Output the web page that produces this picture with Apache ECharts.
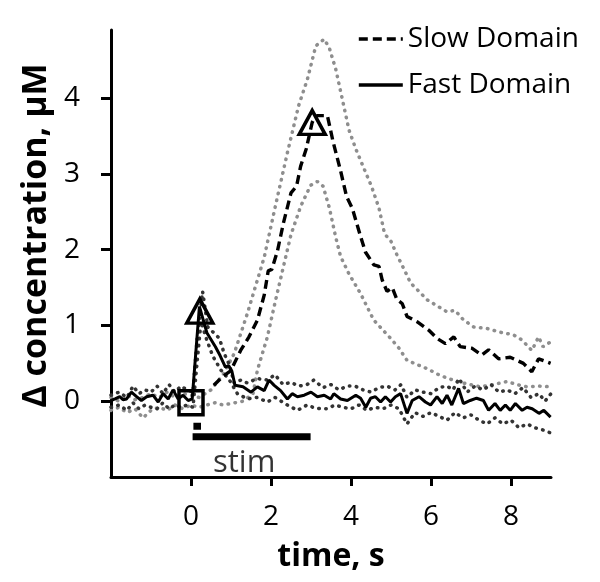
<!DOCTYPE html>
<html>
<head>
<meta charset="utf-8">
<script src="https://cdn.jsdelivr.net/npm/echarts@6/dist/echarts.min.js"></script>
<style>html,body{margin:0;padding:0;background:#fff}#c{width:600px;height:582px}</style>
</head>
<body>
<div id="c"></div>
<script>
// ---- data (time in s, concentration in µM) ----
const xTicks = [0, 2, 4, 6, 8];
const yTicks = [0, 1, 2, 3, 4];

const slowDomain = [[0.57,0.21],[0.78,0.32],[0.99,0.40],[1.24,0.67],[1.45,0.85],[1.66,1.07],[1.83,1.40],[1.93,1.72],[2.02,1.74],[2.16,1.98],[2.31,2.35],[2.50,2.75],[2.64,2.84],[2.74,3.10],[2.88,3.33],[3.03,3.68],[3.10,3.76],[3.17,3.77],[3.41,3.77],[3.55,3.43],[3.74,3.04],[3.89,2.70],[4.03,2.55],[4.22,2.21],[4.36,1.97],[4.57,1.80],[4.70,1.78],[4.78,1.60],[4.90,1.45],[5.03,1.50],[5.15,1.34],[5.28,1.29],[5.40,1.12],[5.65,1.05],[5.94,0.94],[6.15,0.83],[6.36,0.76],[6.57,0.85],[6.73,0.72],[7.02,0.70],[7.27,0.61],[7.44,0.68],[7.69,0.56],[7.98,0.58],[8.31,0.50],[8.52,0.39],[8.69,0.56],[8.99,0.50]];

const slowUpper = [[-2,0.05],[-1.8,0.0],[-1.6,0.08],[-1.4,0.02],[-1.2,0.05],[-1.0,0.10],[-0.8,0.05],[-0.6,0.12],[-0.4,0.05],[-0.2,0.10],[0,0.08],[0.2,0.05],[0.5,0.15],[0.8,0.35],[1.08,0.63],[1.41,1.16],[1.66,1.60],[1.83,1.90],[2.12,2.60],[2.41,3.28],[2.69,3.90],[2.91,4.25],[3.12,4.69],[3.33,4.78],[3.46,4.66],[3.62,4.38],[3.79,3.97],[3.95,3.58],[4.12,3.33],[4.31,3.09],[4.51,2.84],[4.70,2.55],[4.84,2.21],[5.0,2.11],[5.15,1.93],[5.32,1.75],[5.49,1.56],[5.70,1.45],[5.90,1.34],[6.15,1.26],[6.40,1.18],[6.60,1.20],[6.80,1.08],[7.07,0.98],[7.40,0.96],[7.81,0.90],[8.05,0.88],[8.27,0.81],[8.52,0.67],[8.69,0.85],[8.80,0.72],[8.98,0.78]];

const slowLower = [[-2,-0.12],[-1.8,-0.08],[-1.6,-0.15],[-1.4,-0.10],[-1.2,-0.22],[-1.0,-0.12],[-0.8,-0.08],[-0.6,-0.12],[-0.4,-0.05],[-0.2,-0.10],[0,-0.05],[0.2,-0.08],[0.4,-0.05],[0.6,-0.02],[0.8,-0.05],[1.0,-0.03],[1.3,0.0],[1.55,0.10],[1.66,0.41],[1.91,0.85],[2.10,1.30],[2.29,1.73],[2.50,2.20],[2.74,2.57],[2.99,2.85],[3.16,2.90],[3.30,2.84],[3.46,2.55],[3.62,2.16],[3.74,1.91],[3.95,1.68],[4.24,1.42],[4.57,1.07],[4.99,0.83],[5.20,0.70],[5.40,0.54],[5.90,0.43],[6.23,0.34],[6.65,0.26],[7.23,0.19],[7.55,0.22],[7.90,0.26],[8.15,0.22],[8.40,0.19],[8.70,0.20],[8.99,0.19]];

const fastDomain = [[-2,0.01],[-1.9,0.03],[-1.78,0.06],[-1.7,0.02],[-1.61,0.03],[-1.49,0.12],[-1.36,0.06],[-1.24,0.01],[-1.11,0.06],[-0.95,0.08],[-0.82,-0.01],[-0.7,0.10],[-0.57,0.03],[-0.45,0.15],[-0.32,0.03],[-0.2,0.08],[-0.07,0.01],[0.03,0.03],[0.21,1.25],[0.40,0.90],[0.61,0.72],[0.73,0.60],[0.86,0.45],[0.94,0.47],[1.02,0.40],[1.10,0.21],[1.30,0.19],[1.50,0.12],[1.66,0.19],[1.83,0.14],[1.95,0.28],[2.08,0.21],[2.24,0.14],[2.41,0.03],[2.53,0.10],[2.66,0.06],[2.83,0.08],[3.0,0.12],[3.16,0.06],[3.33,0.08],[3.49,0.03],[3.57,0.10],[3.74,0.03],[3.91,0.01],[4.12,0.08],[4.24,0.04],[4.37,-0.08],[4.49,0.04],[4.61,0.06],[4.74,-0.01],[4.86,0.06],[4.99,-0.01],[5.11,0.06],[5.24,0.10],[5.40,-0.16],[5.53,0.01],[5.70,0.06],[5.86,-0.01],[5.99,-0.05],[6.15,0.06],[6.28,-0.03],[6.40,0.08],[6.52,-0.05],[6.69,0.17],[6.81,-0.03],[6.98,0.01],[7.14,0.04],[7.31,0.01],[7.44,-0.12],[7.60,-0.03],[7.73,-0.12],[7.86,-0.05],[7.98,-0.12],[8.11,-0.03],[8.28,-0.12],[8.40,-0.08],[8.53,-0.10],[8.70,-0.16],[8.82,-0.12],[8.99,-0.21]];

const fastUpper = [[-2,0.08],[-1.8,0.12],[-1.6,0.05],[-1.45,0.20],[-1.3,0.10],[-1.15,0.15],[-1.0,0.12],[-0.85,0.20],[-0.7,0.10],[-0.55,0.22],[-0.4,0.12],[-0.25,0.20],[-0.1,0.15],[0.05,0.12],[0.15,0.80],[0.29,1.45],[0.42,0.98],[0.71,0.83],[0.83,0.63],[0.96,0.48],[1.08,0.24],[1.25,0.28],[1.41,0.24],[1.65,0.30],[1.91,0.28],[2.1,0.35],[2.3,0.22],[2.49,0.25],[2.7,0.20],[2.9,0.22],[3.07,0.28],[3.3,0.18],[3.5,0.22],[3.7,0.15],[3.9,0.20],[4.1,0.20],[4.3,0.15],[4.5,0.12],[4.7,0.18],[4.9,0.20],[5.1,0.15],[5.25,0.22],[5.4,0.05],[5.6,0.15],[5.8,0.12],[6.0,0.10],[6.2,0.18],[6.4,0.20],[6.55,0.15],[6.7,0.30],[6.9,0.12],[7.1,0.20],[7.3,0.15],[7.5,0.22],[7.7,0.12],[7.9,0.15],[8.1,0.10],[8.3,0.18],[8.5,0.05],[8.7,0.10],[8.85,0.0],[9.0,0.10]];

const fastLower = [[-2,-0.08],[-1.8,-0.05],[-1.6,-0.12],[-1.45,-0.02],[-1.3,-0.10],[-1.15,-0.05],[-1.0,-0.08],[-0.85,-0.10],[-0.7,-0.02],[-0.55,-0.10],[-0.4,-0.05],[-0.25,-0.08],[-0.1,-0.05],[0.05,-0.08],[0.15,0.50],[0.25,1.05],[0.40,0.80],[0.55,0.59],[0.75,0.41],[0.96,0.28],[1.16,0.10],[1.41,0.03],[1.65,0.05],[1.91,-0.01],[2.1,0.05],[2.41,-0.05],[2.66,-0.12],[2.9,-0.05],[3.05,-0.08],[3.24,-0.10],[3.4,-0.10],[3.6,-0.05],[3.8,-0.08],[4.0,-0.10],[4.2,-0.05],[4.4,-0.12],[4.6,-0.08],[4.8,-0.10],[5.0,-0.05],[5.2,-0.10],[5.4,-0.30],[5.6,-0.15],[5.8,-0.20],[6.0,-0.15],[6.2,-0.20],[6.4,-0.25],[6.6,-0.15],[6.8,-0.22],[7.0,-0.18],[7.2,-0.25],[7.4,-0.30],[7.6,-0.22],[7.8,-0.30],[8.0,-0.25],[8.2,-0.35],[8.4,-0.30],[8.6,-0.35],[8.8,-0.38],[9.0,-0.42]];

const peakMarkers = [[0.22,1.19],[3.03,3.68]];
const onsetMarker = [[0.0,-0.02]];
const stimBar = [[0.04,-0.47],[2.99,-0.47]];
const stimPulse = [[0.06,-0.33],[0.25,-0.33]];
const stimLabel = [[1.33,-0.82]];

const FONT = '"Open Sans", sans-serif';
const dotted = (c) => ({ color: c, width: 3.5, type: [0.5, 6.5], cap: 'round' });

const chart = echarts.init(document.getElementById('c'), null, { renderer: 'canvas' });
chart.setOption({
  animation: false,
  backgroundColor: '#fff',
  grid: { left: 111, right: 49, top: 30, bottom: 105 },
  legend: {
    data: ['Slow Domain', 'Fast Domain'],
    orient: 'vertical', left: 352, top: 20,
    itemWidth: 44, itemHeight: 14, itemGap: 18,
    itemStyle: { opacity: 0 },
    lineStyle: { width: 3.6 },
    textStyle: { fontFamily: FONT, fontSize: 28, color: '#000' }
  },
  xAxis: {
    type: 'value', min: -2, max: 9,
    name: 'time, s', nameLocation: 'middle', nameGap: 64,
    nameTextStyle: { fontFamily: FONT, fontSize: 32, fontWeight: 'bold', color: '#000' },
    axisLine: { onZero: false, lineStyle: { color: '#000', width: 3 } },
    axisTick: { show: true, length: 9, lineStyle: { color: '#000', width: 3 }, customValues: xTicks },
    axisLabel: { fontFamily: FONT, fontSize: 28, color: '#000', margin: 26, customValues: xTicks },
    splitLine: { show: false }
  },
  yAxis: {
    type: 'value', min: -1, max: 4.9,
    name: 'Δ concentration, μM', nameLocation: 'middle', nameGap: 58, nameRotate: 90,
    nameTextStyle: { fontFamily: FONT, fontSize: 34, fontWeight: 'bold', color: '#000', padding: [0, 0, 0, 36] },
    axisLine: { show: true, onZero: false, lineStyle: { color: '#000', width: 3 } },
    axisTick: { show: true, length: 10, lineStyle: { color: '#000', width: 3 }, customValues: yTicks },
    axisLabel: { fontFamily: FONT, fontSize: 28, color: '#000', margin: 31, customValues: yTicks },
    splitLine: { show: false }
  },
  series: [
    { name: 'slow upper', type: 'line', data: slowUpper, symbol: 'none', lineStyle: dotted('#8e8e8e'), z: 1 },
    { name: 'slow lower', type: 'line', data: slowLower, symbol: 'none', lineStyle: dotted('#8e8e8e'), z: 1 },
    { name: 'fast upper', type: 'line', data: fastUpper, symbol: 'none', lineStyle: dotted('#333333'), z: 2 },
    { name: 'fast lower', type: 'line', data: fastLower, symbol: 'none', lineStyle: dotted('#333333'), z: 2 },
    { name: 'Slow Domain', type: 'line', data: slowDomain, symbol: 'none', lineStyle: { color: '#000', width: 3.4, type: [9, 5] }, itemStyle: { color: '#000' }, z: 3 },
    { name: 'Fast Domain', type: 'line', data: fastDomain, symbol: 'none', lineStyle: { color: '#000', width: 3 }, itemStyle: { color: '#000' }, z: 4 },
    { name: 'peaks', type: 'scatter', data: peakMarkers, symbol: 'triangle', symbolSize: [26, 24],
      itemStyle: { color: 'rgba(0,0,0,0)', borderColor: '#000', borderWidth: 3.5, opacity: 1 }, z: 5 },
    { name: 'onset', type: 'scatter', data: onsetMarker, symbol: 'rect', symbolSize: 24,
      itemStyle: { color: 'rgba(0,0,0,0)', borderColor: '#000', borderWidth: 3.5, opacity: 1 }, z: 5 },
    { name: 'stim bar', type: 'line', data: stimBar, symbol: 'none', lineStyle: { color: '#000', width: 7, cap: 'butt' }, z: 5 },
    { name: 'stim pulse', type: 'line', data: stimPulse, symbol: 'none', lineStyle: { color: '#000', width: 7, cap: 'butt' }, z: 5 },
    { name: 'stim label', type: 'scatter', data: stimLabel, symbolSize: 0,
      label: { show: true, position: 'inside', formatter: 'stim', fontFamily: FONT, fontSize: 31, color: '#000' }, z: 5 }
  ]
});
</script>
</body>
</html>
